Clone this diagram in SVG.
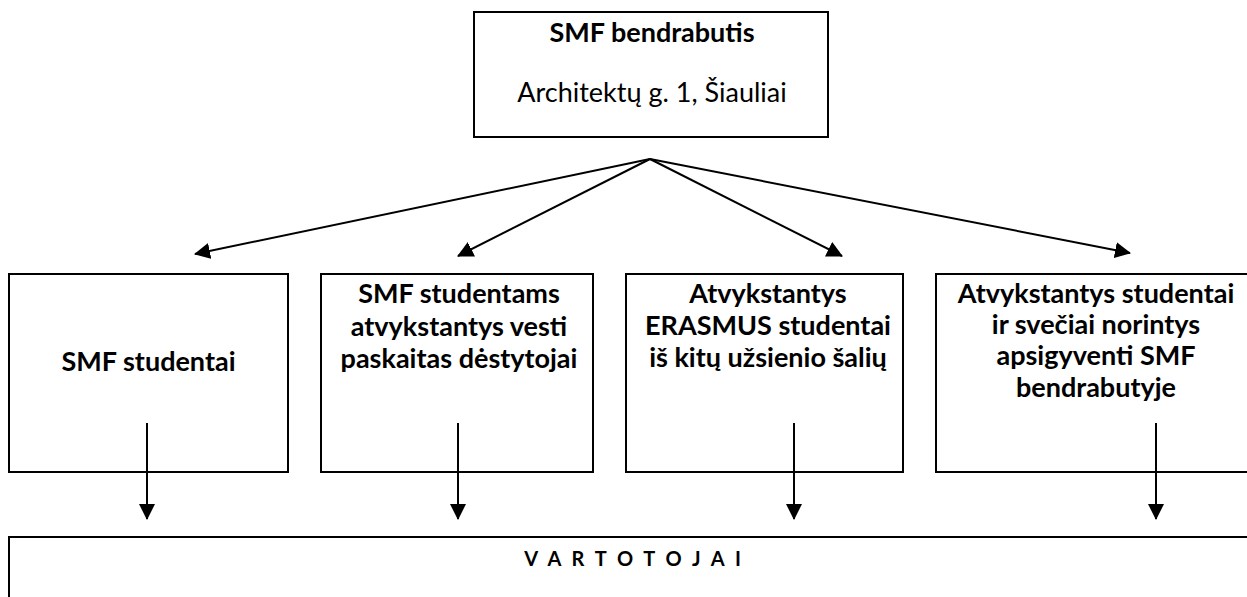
<svg xmlns="http://www.w3.org/2000/svg" width="1247" height="597" viewBox="0 0 1247 597">
<style>
.box{fill:#fff;stroke:#000;stroke-width:2}
.t{font-family:Lato,"Liberation Sans",sans-serif;font-size:27px;fill:#000;text-anchor:middle}
.b{font-weight:bold}
.c{stroke:#000;stroke-width:2;fill:none;marker-end:url(#ah)}
</style>
<defs>
<marker id="ah" markerUnits="userSpaceOnUse" markerWidth="17" markerHeight="16" refX="15" refY="8" orient="auto" viewBox="0 0 17 16">
<path d="M0,0 L16,8 L0,16 z" fill="#000"/>
</marker>
</defs>
<rect width="1247" height="597" fill="#fff"/>
<g id="top">
<rect class="box" x="474" y="12" width="354" height="125"/>
<text class="t b" x="652" y="42">SMF bendrabutis</text>
<text class="t" x="652" y="102">Architektų g. 1, Šiauliai</text>
</g>
<g id="n1">
<rect class="box" x="9" y="274" width="279" height="198"/>
<text class="t b" x="148.5" y="371">SMF studentai</text>
</g>
<g id="n2">
<rect class="box" x="321" y="274" width="272" height="198"/>
<text class="t b" x="459" y="303">SMF studentams</text>
<text class="t b" x="459" y="336">atvykstantys vesti</text>
<text class="t b" x="459" y="368">paskaitas dėstytojai</text>
</g>
<g id="n3">
<rect class="box" x="626" y="274" width="277" height="198"/>
<text class="t b" x="768" y="303">Atvykstantys</text>
<text class="t b" x="768" y="335">ERASMUS studentai</text>
<text class="t b" x="768" y="367">iš kitų užsienio šalių</text>
</g>
<g id="n4">
<rect class="box" x="936" y="274" width="320" height="198"/>
<text class="t b" x="1096" y="303">Atvykstantys studentai</text>
<text class="t b" x="1096" y="334">ir svečiai norintys</text>
<text class="t b" x="1096" y="365">apsigyventi SMF</text>
<text class="t b" x="1096" y="397">bendrabutyje</text>
</g>
<g id="bottom">
<rect class="box" x="9" y="537" width="1250" height="80"/>
<text class="t b" x="634" y="566" style="font-size:20px;letter-spacing:3px">V A R T O T O J A I</text>
</g>
<g id="connectors">
<line class="c" x1="650" y1="159" x2="195" y2="254"/>
<line class="c" x1="650" y1="159" x2="458" y2="256"/>
<line class="c" x1="650" y1="159" x2="842" y2="256"/>
<line class="c" x1="650" y1="159" x2="1130" y2="253"/>
<line class="c" x1="147" y1="423" x2="147" y2="519"/>
<line class="c" x1="458" y1="423" x2="458" y2="519"/>
<line class="c" x1="794" y1="423" x2="794" y2="519"/>
<line class="c" x1="1156" y1="423" x2="1156" y2="519"/>
</g>
</svg>
